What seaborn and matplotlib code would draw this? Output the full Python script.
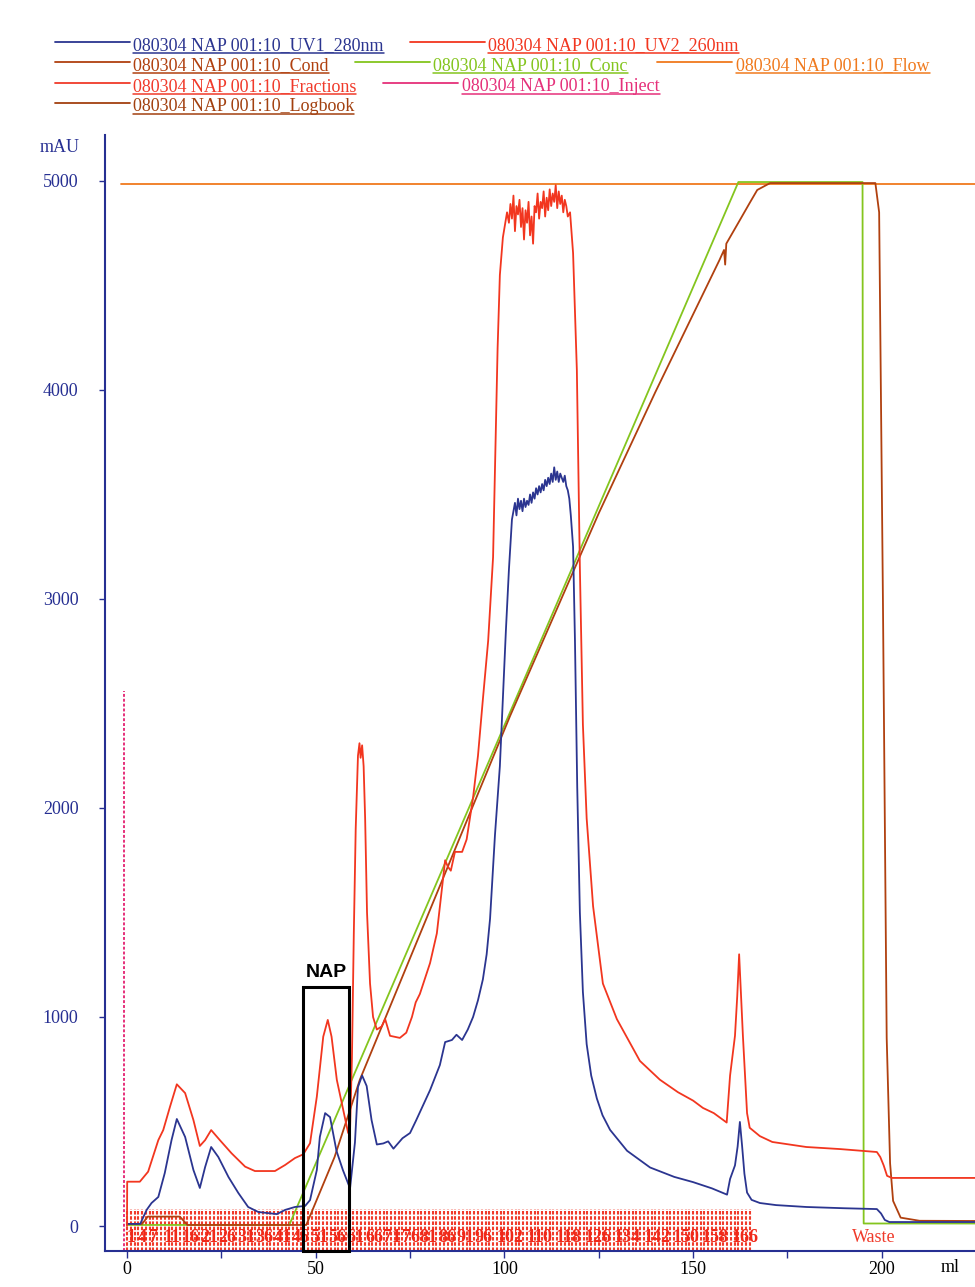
import matplotlib
matplotlib.use("Agg")
import matplotlib.pyplot as plt
from matplotlib.lines import Line2D
from matplotlib.patches import Rectangle
import seaborn as sns

# ------------------ Data (ml, mAU) ------------------ #
uv1_ml = [0, 3.5, 5.2, 6.5, 8.3, 10, 11.8, 13.2, 15.4, 17.6, 19.3, 20.7, 22.3, 24.2, 26.9,
          29.5, 32.1, 34.8, 39.7, 41.9, 44.5, 47.2, 48.5, 50.3, 51.1, 52.5, 53.8, 55.5, 57.2,
          59.1, 60.4, 61.2, 62.3, 63.5, 64.8, 66.2, 67.9, 69.2, 70.6, 73, 75, 76.6, 78.5,
          80.3, 82.9, 84.3, 86.1, 87.3, 88.8, 90.3, 91.7, 93, 94.3, 95.3, 96.2, 97.5, 98.8,
          99.6, 100.4, 101.2, 102,
          102.8, 103.2, 103.6, 104.0, 104.4, 104.8, 105.2, 105.6, 106.0, 106.4, 106.8, 107.2,
          107.6, 108.0, 108.4, 108.8, 109.2, 109.6, 110.0, 110.4, 110.8, 111.2, 111.6, 112.0,
          112.4, 112.8, 113.2, 113.6, 114.0, 114.4, 114.8, 115.2, 115.6, 116.0, 116.4, 116.8,
          117.2, 117.6,
          118.2, 118.7, 119.3, 120, 120.8, 121.8, 123, 124.5, 126, 128, 132.5, 138.6, 145,
          150, 155, 159, 159.8, 161.1, 161.8, 162.4, 163.0, 163.6, 164.3, 165.5, 167.7, 172,
          180, 190, 198.7, 199.8, 200.8, 202, 225]
uv1_mau = [10, 10, 77, 110, 139, 253, 411, 512, 426, 268, 182, 282, 378, 330, 234,
           158, 91, 67, 57, 77, 91, 96, 124, 268, 426, 540, 521, 360, 268,
           180, 400, 665, 720, 670, 507, 390, 395, 405, 370, 420, 445, 505, 580,
           650, 770, 880, 890, 915, 890, 940, 1000, 1080, 1180, 1300, 1470, 1870, 2200,
           2520, 2850, 3140, 3380,
           3460, 3400, 3480, 3430, 3470, 3420, 3480, 3440, 3470, 3450, 3500, 3460,
           3510, 3480, 3530, 3500, 3540, 3510, 3550, 3520, 3570, 3540, 3580, 3550,
           3600, 3560, 3630, 3570, 3610, 3560, 3600, 3580, 3560, 3590, 3540, 3520,
           3480, 3400,
           3250, 2800, 2100, 1500, 1120, 870, 720, 610, 530, 460, 360, 280, 235,
           210, 180, 150, 225, 290, 380, 498, 380, 250, 160, 125, 110, 100,
           91, 85, 81, 60, 29, 19, 19]

uv2_ml = [0, 0.05, 3.4, 5.6, 8.3, 9.6, 11.4, 13.2, 15.4, 17.6, 19.3, 20.7, 22.3, 24.6, 27.7,
          31.3, 33.9, 39.2, 41.9, 44.5, 46.7, 48.5, 50.3, 52, 53.2, 54.2, 55.6, 56.9, 58.6,
          59.1, 59.6, 60.1, 60.6, 61.2, 61.6, 61.9, 62.3, 62.7, 63.1, 63.6, 64.4, 65.2, 66.2,
          67.5, 68.4, 69.7, 72.3, 74, 75.5, 76.5, 77.6, 80.3, 82.1, 83.5, 84.3, 85, 85.8,
          86.9, 88.8, 90, 91.7, 93, 94.3, 95.7, 97, 97.6, 98.2, 98.8, 99.6,
          100.7, 101.2, 101.6, 102.0, 102.4, 102.8, 103.2, 103.6, 104.0, 104.4, 104.8, 105.2,
          105.6, 106.0, 106.4, 106.8, 107.2, 107.6, 108.0, 108.4, 108.8, 109.2, 109.6, 110.0,
          110.4, 110.8, 111.2, 111.6, 112.0, 112.4, 112.8, 113.2, 113.6, 114.0, 114.4, 114.8,
          115.2, 115.6, 116.0, 116.4, 116.8, 117.4,
          118.2, 119.2, 120, 120.8, 121.8, 123.5, 126.1, 129.8, 135.9, 141.2, 146, 150, 152.6,
          155.5, 158.9, 159.8, 161.1, 161.7, 162.2, 162.7, 163.2, 164.3, 165, 167.7, 171,
          180, 189, 198.7, 199.6, 200.5, 201.4, 202.7, 225]
uv2_mau = [0, 212, 212, 260, 411, 459, 571, 678, 636, 507, 383, 411, 459, 411, 348,
           284, 263, 263, 292, 325, 343, 396, 619, 906, 986, 906, 699, 589, 445,
           460, 800, 1400, 1900, 2250, 2310, 2240, 2300, 2200, 1950, 1500, 1160, 1000, 940,
           955, 990, 910, 900, 925, 1000, 1070, 1110, 1258, 1400, 1620, 1750, 1720, 1700,
           1790, 1790, 1850, 2050, 2250, 2520, 2800, 3200, 3700, 4200, 4550, 4730,
           4850, 4800, 4890, 4820, 4930, 4760, 4880, 4840, 4910, 4780, 4870, 4720,
           4860, 4800, 4900, 4740, 4830, 4700, 4880, 4850, 4940, 4820, 4900, 4870,
           4950, 4830, 4920, 4860, 4960, 4880, 4940, 4900, 4980, 4870, 4950, 4890,
           4930, 4850, 4910, 4880, 4830, 4850,
           4655, 4096, 3150, 2400, 1950, 1530, 1160, 990, 790, 700, 640, 600, 565,
           540, 495, 720, 910, 1100, 1300, 1100, 910, 540, 470, 430, 402,
           378, 368, 354, 330, 290, 240, 230, 230]

cond_ml = [0, 4, 5.5, 14, 16, 47.5, 55, 61.7, 80, 101.5, 125, 140, 157, 158.2, 158.5, 158.8,
           162.4, 165, 167, 170.4, 198.3, 199.3, 200.3, 201.3, 202.2, 203, 205, 210, 225]
cond_mau = [10, 10, 45, 45, 5, 5, 330, 700, 1500, 2440, 3410, 3990, 4622, 4670, 4600, 4700,
            4813, 4895, 4957, 4990, 4990, 4850, 3000, 900, 300, 120, 40, 25, 24]

conc_ml = [0, 43, 162, 194.9, 195.2, 225]
conc_mau = [5, 5, 4995, 4995, 12, 12]

flow_ml = [-1.5, 225]
flow_mau = [4985, 4985]

inject_ml = [-0.9, -0.9]
inject_mau = [-120, 2560]

frac_end = 165          # ml where the last fraction mark sits
n_fractions = 166
label_spacing = 0.97    # ml per fraction number along the label row
frac_labels = [1, 4, 7, 11, 16, 21, 26, 31, 36, 41, 46, 51, 56, 61, 66, 71, 76, 81, 86, 91,
               96, 102, 110, 118, 126, 134, 142, 150, 158, 166]

legend_labels = ["080304 NAP 001:10_UV1_280nm", "080304 NAP 001:10_UV2_260nm",
                 "080304 NAP 001:10_Cond", "080304 NAP 001:10_Conc",
                 "080304 NAP 001:10_Flow", "080304 NAP 001:10_Fractions",
                 "080304 NAP 001:10_Inject", "080304 NAP 001:10_Logbook"]

# ------------------ Colours ------------------ #
c_uv1 = '#2b3590'
c_uv2 = '#f2361f'
c_cond = '#b0400f'
c_conc = '#84c51e'
c_flow = '#f07a1e'
c_frac = '#f03a2a'
c_inject = '#e5307a'
c_log = '#a2400f'
c_axis = '#262f92'
legend_colors = [c_uv1, c_uv2, c_cond, c_conc, c_flow, c_frac, c_inject, c_log]

# ------------------ Figure ------------------ #
sns.set_theme(style="white")
plt.rcParams['font.family'] = ['Liberation Serif', 'DejaVu Serif']

W, H = 975, 1287
fig = plt.figure(figsize=(W / 100, H / 100), dpi=100)
ax = fig.add_axes([105 / W, 36 / H, 870 / W, 1116 / H])


def fx(px):
    return px / W


def fy(py):
    return 1 - py / H


# fractions: dense dashed red marks along the bottom
frac_x = [i * frac_end / (n_fractions - 1) for i in range(n_fractions)]
ax.vlines(frac_x, -120, 80, colors=c_frac, linewidth=1.5, linestyles=(0, (1.7, 0.8)),
          zorder=1)
for n in frac_labels:
    ax.text((n - 1) * label_spacing, -57, str(n), color='#f02818', fontsize=13,
            fontweight='bold', ha='left', va='center', zorder=3)
ax.text(198, -57, 'Waste', color=c_frac, fontsize=13, ha='center', va='center')

# curves
sns.lineplot(x=inject_ml, y=inject_mau, ax=ax, color=c_inject, lw=1.4, linestyle=(0, (1.5, 1)),
             estimator=None, sort=False)
sns.lineplot(x=flow_ml, y=flow_mau, ax=ax, color=c_flow, lw=1.3, estimator=None, sort=False)
sns.lineplot(x=conc_ml, y=conc_mau, ax=ax, color=c_conc, lw=1.3, estimator=None, sort=False)
sns.lineplot(x=cond_ml, y=cond_mau, ax=ax, color=c_cond, lw=1.3, estimator=None, sort=False)
sns.lineplot(x=uv1_ml, y=uv1_mau, ax=ax, color=c_uv1, lw=1.3, estimator=None, sort=False)
sns.lineplot(x=uv2_ml, y=uv2_mau, ax=ax, color=c_uv2, lw=1.3, estimator=None, sort=False)

# NAP box
ax.add_patch(Rectangle((46.6, -120), 12.2, 1263, fill=False, ec='black', lw=2.2, zorder=5,
                       clip_on=False))
ax.text(52.7, 1215, 'NAP', family='Liberation Sans', fontweight='bold', fontsize=14,
        ha='center', va='center', color='black')

# axes styling
ax.set_xlim(-5.83, 224.7)
ax.set_ylim(-119.6, 5220)
sns.despine(ax=ax)
for side in ['left', 'bottom']:
    ax.spines[side].set_color(c_axis)
    ax.spines[side].set_linewidth(1.5)
ax.set_xticks([0, 50, 100, 150, 200])
ax.set_xticks([25, 75, 125, 175], minor=True)
ax.set_yticks([0, 1000, 2000, 3000, 4000, 5000])
ax.tick_params(axis='x', which='both', direction='out', length=5, width=1, color=c_axis,
               labelsize=13, labelcolor='black', pad=2, bottom=True)
ax.tick_params(axis='y', direction='out', length=4, width=1, color=c_axis,
               labelsize=13, labelcolor=c_axis, pad=15, left=True)
ax.set_xlabel('')
ax.set_ylabel('')
ax.grid(False)

fig.text(fx(60), fy(148), 'mAU', color=c_axis, fontsize=13, ha='center', va='center')
fig.text(fx(950), fy(1268), 'ml', color='black', fontsize=13, ha='center', va='center')

# header legend with underlined labels
legend_pos = [(55, 130, 133, 50), (410, 485, 488, 50),
              (55, 130, 133, 70), (355, 430, 433, 70), (657, 732, 736, 70),
              (55, 130, 133, 91), (383, 458, 462, 91),
              (55, 130, 133, 111)]
texts = []
for label, color, (lx0, lx1, tx, by) in zip(legend_labels, legend_colors, legend_pos):
    fig.add_artist(Line2D([fx(lx0), fx(lx1)], [fy(by - 8), fy(by - 8)], color=color, lw=1.3,
                          transform=fig.transFigure))
    t = fig.text(fx(tx), fy(by), label, color=color, fontsize=13, va='baseline')
    texts.append((t, color, by))

fig.canvas.draw()
r = fig.canvas.get_renderer()
for t, color, by in texts:
    bb = t.get_window_extent(r)
    fig.add_artist(Line2D([bb.x0 / W, bb.x1 / W], [fy(by + 2.5), fy(by + 2.5)], color=color,
                          lw=1.1, transform=fig.transFigure))

fig.savefig('out.png', dpi=100, facecolor='white')
